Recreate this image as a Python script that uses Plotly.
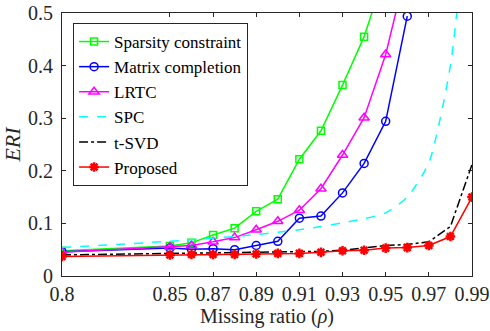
import plotly.graph_objects as go

rho = [0.80, 0.85, 0.86, 0.87, 0.88, 0.89, 0.90, 0.91, 0.92, 0.93, 0.94, 0.95, 0.96, 0.97, 0.98, 0.99]

sparsity = [0.048, 0.057, 0.063, 0.078, 0.091, 0.123, 0.146, 0.222, 0.276, 0.363, 0.455, 0.58]
matrix_completion = [0.046, 0.053, 0.051, 0.052, 0.050, 0.058, 0.066, 0.110, 0.114, 0.158, 0.214, 0.294, 0.494]
lrtc = [0.045, 0.055, 0.058, 0.065, 0.073, 0.088, 0.104, 0.125, 0.166, 0.230, 0.301, 0.421, 0.59]
spc = [0.054, 0.066, 0.069, 0.072, 0.075, 0.079, 0.083, 0.088, 0.094, 0.101, 0.109, 0.120, 0.150, 0.215, 0.40, 0.80]
tsvd = [0.040, 0.043, 0.043, 0.044, 0.044, 0.045, 0.045, 0.046, 0.047, 0.049, 0.053, 0.058, 0.060, 0.065, 0.094, 0.212]
proposed = [0.037, 0.040, 0.041, 0.041, 0.041, 0.042, 0.043, 0.043, 0.045, 0.048, 0.049, 0.053, 0.054, 0.058, 0.075, 0.150]

x_ticks = [0.8, 0.85, 0.87, 0.89, 0.91, 0.93, 0.95, 0.97, 0.99]
x_tick_labels = ["0.8", "0.85", "0.87", "0.89", "0.91", "0.93", "0.95", "0.97", "0.99"]
y_ticks = [0, 0.1, 0.2, 0.3, 0.4, 0.5]
y_tick_labels = ["0", "0.1", "0.2", "0.3", "0.4", "0.5"]

FONT = "'Liberation Serif', 'Times New Roman', serif"
fig = go.Figure()

fig.add_trace(go.Scatter(x=rho[:len(sparsity)], y=sparsity, name="Sparsity constraint", mode="lines+markers",
                         line=dict(color="#00ff00", width=1.5),
                         marker=dict(symbol="square-open", size=7, color="#00ff00", line=dict(width=1.5))))
fig.add_trace(go.Scatter(x=rho[:len(matrix_completion)], y=matrix_completion, name="Matrix completion", mode="lines+markers",
                         line=dict(color="#0000ff", width=1.5),
                         marker=dict(symbol="circle-open", size=8, color="#0000ff", line=dict(width=1.5))))
fig.add_trace(go.Scatter(x=rho[:len(lrtc)], y=lrtc, name="LRTC", mode="lines+markers",
                         line=dict(color="#ff00ff", width=1.5),
                         marker=dict(symbol="triangle-up-open", size=9, color="#ff00ff", line=dict(width=1.5))))
fig.add_trace(go.Scatter(x=rho, y=spc, name="SPC", mode="lines",
                         line=dict(color="#00ffff", width=1.5, dash="dash", shape="spline", smoothing=0.6)))
fig.add_trace(go.Scatter(x=rho, y=tsvd, name="t-SVD", mode="lines",
                         line=dict(color="#000000", width=1.5, dash="dashdot")))
fig.add_trace(go.Scatter(x=rho, y=proposed, name="Proposed", mode="lines+markers",
                         line=dict(color="#ff0000", width=1.5),
                         marker=dict(symbol="asterisk-open", size=8, color="#ff0000", line=dict(width=2.5, color="#ff0000"))))

fig.update_layout(
    width=490, height=331,
    margin=dict(l=62, r=18, t=13, b=55, autoexpand=False),
    paper_bgcolor="white", plot_bgcolor="white",
    font=dict(family=FONT, size=20, color="#262626"),
    showlegend=True,
    legend=dict(x=0.027, y=0.962, xanchor="left", yanchor="top",
                bgcolor="white", bordercolor="#262626", borderwidth=1,
                font=dict(family=FONT, size=17, color="#000000"),
                tracegroupgap=0, itemwidth=30),
)
fig.update_xaxes(range=[0.8, 0.99], tickvals=x_ticks, ticktext=x_tick_labels,
                 ticks="inside", ticklen=4, tickcolor="#262626", mirror="ticks",
                 ticklabelstandoff=0, automargin=False,
                 showline=True, linecolor="#262626", linewidth=1, showgrid=False, zeroline=False,
                 title=dict(text="Missing ratio (<i>ρ</i>)", font=dict(family=FONT, size=20), standoff=2))
fig.update_yaxes(range=[0, 0.5], tickvals=y_ticks, ticktext=y_tick_labels,
                 ticks="inside", ticklen=4, tickcolor="#262626", mirror="ticks",
                 ticklabelstandoff=4, automargin=False,
                 showline=True, linecolor="#262626", linewidth=1, showgrid=False, zeroline=False,
                 title=dict(text="<i>ERI</i>", font=dict(family=FONT, size=22), standoff=6))

fig.write_html("out.html", config={"displayModeBar": False},
               post_script="document.body.style.margin='0';document.body.style.overflow='hidden';")
